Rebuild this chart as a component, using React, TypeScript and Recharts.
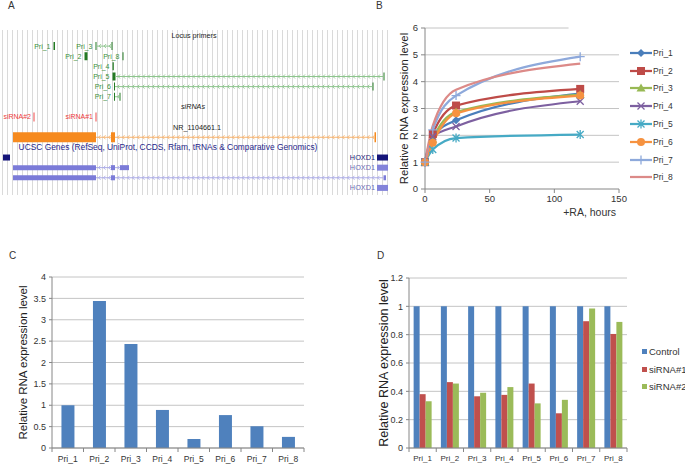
import React from 'react'
import {
  BarChart, Bar, LineChart, Line, ScatterChart, Scatter, XAxis, YAxis,
  CartesianGrid, Legend, ReferenceArea, ReferenceLine,
} from 'recharts'

const FONT = '"Liberation Sans", Arial, sans-serif'
const AXIS = '#868686'
const GRID = '#c4c4c4'
const TXT = '#333'

// ---------- A: locus tracks (positions in browser units) ----------
type Block = [number, number]

const PRIMERS = ['Pri_1', 'Pri_2', 'Pri_3', 'Pri_4', 'Pri_5', 'Pri_6', 'Pri_7', 'Pri_8']
const PRIMER_ROWS = [1, 2, 1, 3, 4, 5, 6, 2]
const PRIMER_BLOCKS: Block[][] = [
  [[53.5, 55]],
  [[84.5, 87.5]],
  [[95.5, 96.5], [111.5, 112.5]],
  [[112.5, 113.8]],
  [[112.5, 115.5], [383.5, 384.5]],
  [[114, 115], [372.5, 373.5]],
  [[114, 115], [119.5, 120.5]],
  [[122.5, 123.5]],
]

const SIRNAS = ['siRNA#2', 'siRNA#1']
const SIRNA_POS = [34, 96]
const SIRNA_ROW = 8

const GENE_ROWS = [10, 12, 13, 14]
const GENE_BLOCKS: Block[][] = [
  [[13, 96], [111, 115], [374.5, 376]],
  [[3, 10]],
  [[13, 96], [111, 115], [120, 129]],
  [[13, 96], [111, 115], [383.5, 386]],
]
const HOXD_ROWS = [12, 13, 15]
const HOXD_BOX: Block = [377, 388]

const TITLES = [
  'Locus primers',
  'siRNAs',
  'NR_1104661.1',
  'UCSC Genes (RefSeq, UniProt, CCDS, Rfam, tRNAs & Comparative Genomics)',
]
const TITLE_ROWS = [0, 7, 9, 11]
const TITLE_POS = [194, 193, 197, 168]

const GRID_X = Array.from({ length: 78 }, (_, i) => 2.5 + i * 5)

// ---------- B: time course ----------
const HOURS = [0, 6, 24, 120]
const PRI_1 = [1, 1.95, 2.56, 3.55]
const PRI_2 = [1, 2.05, 3.11, 3.73]
const PRI_3 = [1, 1.85, 2.87, 3.52]
const PRI_4 = [1, 1.95, 2.33, 3.27]
const PRI_5 = [1, 1.47, 1.9, 2.03]
const PRI_6 = [1, 1.72, 2.82, 3.48]
const PRI_7 = [1, 2.2, 3.48, 4.93]
const PRI_8 = [1, 2.35, 3.7, 4.67]
const B_VALUES = [PRI_1, PRI_2, PRI_3, PRI_4, PRI_5, PRI_6, PRI_7, PRI_8]
const B_YTICKS = [0, 1, 2, 3, 4, 5, 6]
const B_XTICKS = [0, 50, 100, 150]

// ---------- C: baseline levels ----------
const C_VALUES = [1.0, 3.44, 2.43, 0.89, 0.21, 0.77, 0.51, 0.26]
const C_TICKS = [0, 0.5, 1, 1.5, 2, 2.5, 3, 3.5, 4]

// ---------- D: knockdown ----------
const D_SERIES = ['Control', 'siRNA#1', 'siRNA#2']
const D_CONTROL = [1, 1, 1, 1, 1, 1, 1, 1]
const D_SI1 = [0.38, 0.465, 0.365, 0.375, 0.455, 0.245, 0.895, 0.805]
const D_SI2 = [0.33, 0.455, 0.39, 0.43, 0.315, 0.34, 0.985, 0.89]
const D_TICKS = [0, 0.2, 0.4, 0.6, 0.8, 1, 1.2]

// styles
const ROW_PX = 10.13
const PRIMER_STYLE = { fill: '#247a24', intron: '#8cc48c', h: 8 }
const SIRNA_STYLE = { fill: '#f04848', h: 9 }
const GENE_STYLE = [
  { fill: '#f68a1e', intron: '#f6b36e', h: 10 },
  { fill: '#15157a', intron: '#15157a', h: 6 },
  { fill: '#7b7bd8', intron: '#a9a9e6', h: 5 },
  { fill: '#7b7bd8', intron: '#a9a9e6', h: 5 },
]
const TEXT_STYLE: Record<string, any> = {
  primer: { color: '#3a8f3a', size: 7, anchor: 'end', dx: -3 },
  sirna: { color: '#ee3b3b', size: 7, anchor: 'end', dx: -3 },
  hoxdDark: { color: '#22227a', size: 7.3, anchor: 'end', dx: -2 },
  hoxd: { color: '#6b6bb5', size: 7.3, anchor: 'end', dx: -2 },
  title: { color: '#222', size: 7.2, anchor: 'middle', dx: 0 },
  italic: { color: '#222', size: 7.2, anchor: 'middle', dx: 0, italic: true },
  ucsc: { color: '#26268a', size: 8.4, anchor: 'middle', dx: 0 },
}
const B_COLORS = ['#4A7EBB', '#BE4B48', '#98B954', '#7D60A0', '#46AAC5', '#F69240', '#8EA9DB', '#DC8A88']
const B_MARKERS = ['diamond', 'square', 'triangle', 'x', 'star', 'circle', 'plus', 'none']
const D_COLORS = ['#4F81BD', '#C0504D', '#9BBB59']

type Rect = { x1: number; x2: number; row: number; h: number; fill: string }
type Span = { x1: number; x2: number; row: number; stroke: string }
const rects: Rect[] = []
const spans: Span[] = []
function addModel(blocks: Block[], row: number, st: { fill: string; intron: string; h: number }) {
  for (let i = 0; i < blocks.length - 1; i++) {
    spans.push({ x1: blocks[i][1], x2: blocks[i + 1][0], row, stroke: st.intron })
  }
  blocks.forEach(([a, b]) => rects.push({ x1: a, x2: b, row, h: st.h, fill: st.fill }))
}
PRIMER_BLOCKS.forEach((b, i) => addModel(b, PRIMER_ROWS[i], PRIMER_STYLE))
SIRNA_POS.forEach((p) => rects.push({ x1: p - 0.5, x2: p + 0.5, row: SIRNA_ROW, h: SIRNA_STYLE.h, fill: SIRNA_STYLE.fill }))
GENE_BLOCKS.forEach((b, i) => addModel(b, GENE_ROWS[i], GENE_STYLE[i]))
HOXD_ROWS.forEach((r, i) =>
  rects.push({ x1: HOXD_BOX[0], x2: HOXD_BOX[1], row: r, h: 6, fill: i === 0 ? '#15157a' : '#8484da' }))

const labelPoints = [
  ...PRIMERS.map((t, i) => ({ x: PRIMER_BLOCKS[i][0][0], y: PRIMER_ROWS[i], text: t, kind: 'primer' })),
  ...SIRNAS.map((t, i) => ({ x: SIRNA_POS[i], y: SIRNA_ROW, text: t, kind: 'sirna' })),
  ...HOXD_ROWS.map((r, i) => ({ x: HOXD_BOX[0], y: r, text: 'HOXD1', kind: i === 0 ? 'hoxdDark' : 'hoxd' })),
  ...TITLES.map((t, i) => ({
    x: TITLE_POS[i], y: TITLE_ROWS[i], text: t, kind: i === 3 ? 'ucsc' : i === 1 ? 'italic' : 'title',
  })),
]

const IntronLine = (p: any) => {
  const { x1, x2, y1, stroke } = p
  const lo = Math.min(x1, x2)
  const hi = Math.max(x1, x2)
  const marks = []
  for (let x = lo + 3; x <= hi - 1; x += 5) {
    marks.push(
      <polyline key={x} points={`${x + 1.5},${y1 - 2} ${x - 0.5},${y1} ${x + 1.5},${y1 + 2}`}
        fill="none" stroke={stroke} strokeWidth={0.9} />,
    )
  }
  return (
    <g>
      <line x1={lo} x2={hi} y1={y1} y2={y1} stroke={stroke} strokeWidth={1} />
      {marks}
    </g>
  )
}

const TrackText = (p: any) => {
  const d = p.payload
  const st = TEXT_STYLE[d.kind]
  return (
    <text x={p.cx + st.dx} y={p.cy} dy="0.35em" textAnchor={st.anchor} fontSize={st.size}
      fill={st.color} fontStyle={st.italic ? 'italic' : 'normal'} fontFamily={FONT}>
      {d.text}
    </text>
  )
}

const gridColumns = ({ xAxis, offset }: any) =>
  GRID_X.map((v) => (xAxis && typeof xAxis.scale === 'function' ? xAxis.scale(v) : offset.left + v))

function LocusTracks() {
  return (
    <ScatterChart width={390} height={165} margin={{ top: 0, right: 0, bottom: 0, left: 0 }}>
      <CartesianGrid horizontal={false} verticalCoordinatesGenerator={gridColumns} stroke="#dadada" />
      <XAxis type="number" dataKey="x" domain={[0, 390]} allowDataOverflow hide />
      <YAxis type="number" dataKey="y" domain={[-0.59, 15.7]} reversed allowDataOverflow hide />
      {spans.map((s, i) => (
        <ReferenceLine key={`s${i}`} segment={[{ x: s.x1, y: s.row }, { x: s.x2, y: s.row }]}
          stroke={s.stroke} shape={IntronLine} />
      ))}
      {rects.map((r, i) => (
        <ReferenceArea key={`r${i}`} x1={r.x1} x2={r.x2}
          y1={r.row - r.h / 2 / ROW_PX} y2={r.row + r.h / 2 / ROW_PX}
          fill={r.fill} fillOpacity={1} stroke="none" />
      ))}
      <Scatter data={labelPoints} shape={TrackText} isAnimationActive={false} />
    </ScatterChart>
  )
}

// ---------- B ----------
function Marker({ kind, cx, cy, color }: { kind: string; cx: number; cy: number; color: string }) {
  switch (kind) {
    case 'diamond':
      return <polygon points={`${cx},${cy - 4} ${cx + 4},${cy} ${cx},${cy + 4} ${cx - 4},${cy}`} fill={color} />
    case 'square':
      return <rect x={cx - 4} y={cy - 4} width={8} height={8} fill={color} />
    case 'triangle':
      return <polygon points={`${cx},${cy - 4.5} ${cx + 4.5},${cy + 3.5} ${cx - 4.5},${cy + 3.5}`} fill={color} />
    case 'x':
      return <path d={`M${cx - 3.5},${cy - 3.5}L${cx + 3.5},${cy + 3.5}M${cx - 3.5},${cy + 3.5}L${cx + 3.5},${cy - 3.5}`}
        stroke={color} strokeWidth={1.3} fill="none" />
    case 'star':
      return <path d={`M${cx - 3.5},${cy - 3.5}L${cx + 3.5},${cy + 3.5}M${cx - 3.5},${cy + 3.5}L${cx + 3.5},${cy - 3.5}M${cx},${cy - 4.5}L${cx},${cy + 4.5}`}
        stroke={color} strokeWidth={1.3} fill="none" />
    case 'circle':
      return <circle cx={cx} cy={cy} r={4} fill={color} />
    case 'plus':
      return <path d={`M${cx - 4.5},${cy}L${cx + 4.5},${cy}M${cx},${cy - 4.5}L${cx},${cy + 4.5}`}
        stroke={color} strokeWidth={1.3} fill="none" />
    default:
      return null
  }
}

const lineData = HOURS.map((h, i) => {
  const row: Record<string, number> = { h }
  PRIMERS.forEach((s, k) => { row[s] = B_VALUES[k][i] })
  return row
})

const LineKey = () => (
  <div style={{ fontFamily: FONT, fontSize: 8.5, color: TXT }}>
    {PRIMERS.map((s, k) => (
      <div key={s} style={{ display: 'flex', alignItems: 'center', height: 17.8 }}>
        <svg width={22} height={10}>
          <line x1={0} y1={5} x2={22} y2={5} stroke={B_COLORS[k]} strokeWidth={2.25} />
          <Marker kind={B_MARKERS[k]} cx={11} cy={5} color={B_COLORS[k]} />
        </svg>
        <span style={{ marginLeft: 1 }}>{s}</span>
      </div>
    ))}
  </div>
)

function TimeCourse() {
  return (
    <LineChart width={305} height={225} data={lineData} margin={{ top: 28, right: 66, bottom: 6, left: 0 }}>
      <CartesianGrid vertical={false} horizontalValues={[1, 2, 3, 4, 5]} stroke={GRID} />
      <ReferenceLine segment={[{ x: 0, y: 6 }, { x: 111, y: 6 }]} stroke={GRID} />
      <XAxis type="number" dataKey="h" domain={[0, 150]} ticks={B_XTICKS} height={30}
        tickSize={4} tickMargin={2} axisLine={{ stroke: AXIS }} tickLine={{ stroke: AXIS }}
        tick={{ fontSize: 9.5, fill: TXT, fontFamily: FONT }}
        label={{ value: '+RA, hours', position: 'insideBottomRight', offset: 3, fontSize: 10.5, fill: TXT, fontFamily: FONT }} />
      <YAxis type="number" domain={[0, 6]} ticks={B_YTICKS} width={45} interval={0}
        tickSize={4} tickMargin={3} axisLine={{ stroke: AXIS }} tickLine={{ stroke: AXIS }}
        tick={{ fontSize: 9.5, fill: TXT, fontFamily: FONT }}
        label={{ value: 'Relative RNA expression level', angle: -90, position: 'insideLeft', offset: 24,
          fontSize: 11.3, fill: '#222', fontFamily: FONT, style: { textAnchor: 'middle' } }} />
      {PRIMERS.map((s, k) => (
        <Line key={s} dataKey={s} type="monotone" stroke={B_COLORS[k]} strokeWidth={2.25}
          isAnimationActive={false} activeDot={false}
          dot={B_MARKERS[k] === 'none' ? false : (p: any) => (
            <Marker key={`${s}-${p.index}`} kind={B_MARKERS[k]} cx={p.cx} cy={p.cy} color={B_COLORS[k]} />
          )} />
      ))}
      <Legend layout="horizontal" verticalAlign="middle" align="center"
        wrapperStyle={{ left: 250, top: 44, width: 60, height: 'auto' }} content={() => <LineKey />} />
    </LineChart>
  )
}

// ---------- C / D ----------
const CatTick = (p: any) => {
  const { x, y, payload, index, visibleTicksCount, fs } = p
  const half = payload?.offset ?? 0
  const last = index === visibleTicksCount - 1
  return (
    <g>
      <line x1={x - half} x2={x - half} y1={y - 4} y2={y} stroke={AXIS} />
      {last && <line x1={x + half} x2={x + half} y1={y - 4} y2={y} stroke={AXIS} />}
      <text x={x} y={y} dy={fs + 1} textAnchor="middle" fontSize={fs} fill={TXT} fontFamily={FONT}>
        {payload.value}
      </text>
    </g>
  )
}

const cData = PRIMERS.map((name, i) => ({ name, v: C_VALUES[i] }))

function BaselineBars() {
  return (
    <BarChart width={340} height={216} data={cData} margin={{ top: 27, right: 36, bottom: 0, left: 0 }}
      barCategoryGap="30%">
      <CartesianGrid vertical={false} stroke={GRID} />
      <XAxis dataKey="name" interval={0} height={18} tickSize={0} tickMargin={4} tickLine={false}
        axisLine={{ stroke: AXIS }} tick={(p: any) => <CatTick {...p} fs={8.5} />} />
      <YAxis type="number" domain={[0, 4]} ticks={C_TICKS} width={52} interval={0}
        tickSize={3} tickMargin={3} axisLine={{ stroke: AXIS }} tickLine={{ stroke: AXIS }}
        tick={{ fontSize: 9, fill: TXT, fontFamily: FONT }}
        label={{ value: 'Relative RNA expression level', angle: -90, position: 'insideLeft', offset: 23,
          fontSize: 11.5, fill: '#222', fontFamily: FONT, style: { textAnchor: 'middle' } }} />
      <Bar dataKey="v" fill="#4F81BD" isAnimationActive={false} />
    </BarChart>
  )
}

const dData = PRIMERS.map((name, i) => ({
  name, Control: D_CONTROL[i], 'siRNA#1': D_SI1[i], 'siRNA#2': D_SI2[i],
}))

const BarKey = () => (
  <div style={{ fontFamily: FONT, fontSize: 9.5, color: TXT }}>
    {D_SERIES.map((s, k) => (
      <div key={s} style={{ display: 'flex', alignItems: 'center', height: 17.5 }}>
        <span style={{ width: 5, height: 5, background: D_COLORS[k], display: 'inline-block', marginRight: 2 }} />
        <span>{s}</span>
      </div>
    ))}
  </div>
)

function KnockdownBars() {
  return (
    <BarChart width={325} height={216} data={dData} margin={{ top: 28, right: 58, bottom: 0, left: 0 }}
      barCategoryGap="17%" barGap={0}>
      <CartesianGrid vertical={false} stroke={GRID} />
      <XAxis dataKey="name" interval={0} height={18} tickSize={0} tickMargin={4} tickLine={false}
        axisLine={{ stroke: AXIS }} tick={(p: any) => <CatTick {...p} fs={8} />} />
      <YAxis type="number" domain={[0, 1.2]} ticks={D_TICKS} width={49} interval={0}
        tickSize={3} tickMargin={3} axisLine={{ stroke: AXIS }} tickLine={{ stroke: AXIS }}
        tick={{ fontSize: 9, fill: TXT, fontFamily: FONT }}
        label={{ value: 'Relative RNA expression level', angle: -90, position: 'insideLeft', offset: 24,
          fontSize: 12.5, fill: '#222', fontFamily: FONT, style: { textAnchor: 'middle' } }} />
      {D_SERIES.map((s, k) => (
        <Bar key={s} dataKey={s} fill={D_COLORS[k]} isAnimationActive={false} />
      ))}
      <Legend layout="horizontal" verticalAlign="middle" align="center"
        wrapperStyle={{ left: 282, top: 93, width: 50, height: 'auto' }} content={() => <BarKey />} />
    </BarChart>
  )
}

const TAGS = ['A', 'B', 'C', 'D']
const TAG_POS = [[8, 9], [376, 9], [9, 259], [377, 259]]

export default function App() {
  return (
    <div style={{ position: 'absolute', left: 0, top: 0, width: 685, height: 466, background: '#fff',
      fontFamily: FONT, overflow: 'hidden' }}>
      <svg width={685} height={466} style={{ position: 'absolute', left: 0, top: 0 }}>
        {TAGS.map((t, i) => (
          <text key={t} x={TAG_POS[i][0]} y={TAG_POS[i][1]} fontSize={10} fill={TXT} fontFamily={FONT}>{t}</text>
        ))}
      </svg>
      <div style={{ position: 'absolute', left: 0, top: 30 }}><LocusTracks /></div>
      <div style={{ position: 'absolute', left: 380, top: 0 }}><TimeCourse /></div>
      <div style={{ position: 'absolute', left: 0, top: 250 }}><BaselineBars /></div>
      <div style={{ position: 'absolute', left: 360, top: 250 }}><KnockdownBars /></div>
    </div>
  )
}
